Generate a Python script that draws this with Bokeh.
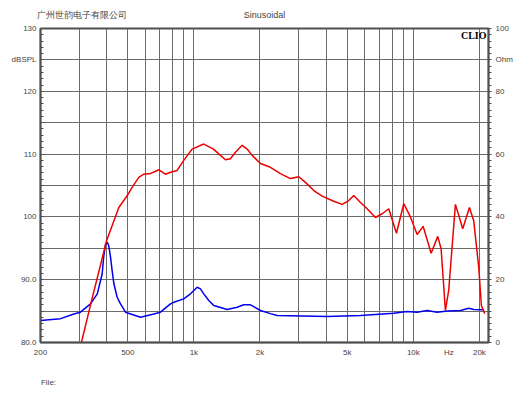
from bokeh.plotting import figure
from bokeh.models import Range1d, LinearAxis, LogAxis, FixedTicker, Label
from bokeh.embed import file_html
from bokeh.resources import INLINE
import math

# ---- data ----
spl_freq = [300, 338, 400, 455, 497, 523, 561, 591, 634, 692, 742, 782, 839, 899, 982,
            1109, 1228, 1321, 1393, 1467, 1546, 1659, 1749, 1843, 2011, 2232, 2480, 2754,
            3006, 3224, 3518, 3841, 4339, 4738, 5077, 5351, 5741, 6156, 6719, 7208, 7727,
            8376, 9040, 9698, 10404, 11081, 12052, 12915, 13382, 13998, 14490, 15548,
            16788, 18012, 18838, 19853, 20420, 21140]
spl_db = [78.5, 86.0, 96.2, 101.5, 103.4, 104.7, 106.3, 106.8, 106.9, 107.5, 106.8, 107.1,
          107.4, 109.0, 110.8, 111.6, 110.8, 109.8, 109.1, 109.25, 110.3, 111.4, 110.8,
          109.8, 108.5, 107.9, 106.9, 106.1, 106.4, 105.5, 104.2, 103.3, 102.5, 102.0,
          102.6, 103.4, 102.3, 101.3, 99.9, 100.5, 101.3, 97.4, 102.1, 100.0, 97.2, 98.5,
          94.2, 96.9, 94.9, 85.1, 88.3, 102.0, 98.1, 101.5, 99.4, 92.0, 85.9, 84.6]

imp_freq = [200, 247, 284, 304, 338, 363, 382, 388, 396, 403, 409, 417, 424, 432, 447, 463,
            488, 571, 657, 704, 782, 810, 899, 965, 1035, 1071, 1109, 1169, 1232, 1418, 1574,
            1687, 1810, 2011, 2232, 2396, 4048, 5741, 8142, 9366, 10404, 11554, 12836,
            14254, 16386, 17882, 18838, 20918]
imp_ohm = [7.0, 7.6, 9.1, 9.65, 12.3, 15.5, 21.9, 27.2, 31.4, 31.9, 30.9, 27.2, 22.9, 18.7,
           14.4, 12.3, 9.65, 8.06, 9.1, 9.65, 12.3, 12.8, 13.9, 15.5, 17.6, 17.1, 15.5, 13.4,
           11.8, 10.5, 11.25, 12.0, 12.0, 10.2, 9.2, 8.6, 8.3, 8.6, 9.3, 9.9, 9.65, 10.2,
           9.65, 10.0, 10.2, 10.9, 10.5, 10.4]

x_ticks = [200, 500, 1000, 2000, 5000, 10000, 14500, 20000]
x_labels = ["200", "500", "1k", "2k", "5k", "10k", "Hz", "20k"]
x_grid = [300, 400, 500, 600, 700, 800, 900, 1000, 2000, 3000, 4000, 5000, 6000, 7000,
          8000, 9000, 10000, 20000]
db_ticks = [80, 90, 100, 110, 120, 125, 130]
db_labels = ["80.0", "90.0", "100", "110", "120", "dBSPL", "130"]
ohm_ticks = [0, 20, 40, 60, 80, 90, 100]
ohm_labels = ["0", "20", "40", "60", "80", "Ohm", "100"]
company = "广州世韵电子有限公司"
mode = "Sinusoidal"
file_text = "File:"

X_MIN, X_MAX = 200, 22000
FRAME_W = 448
FONT = "Liberation Sans"
GRID = "#6a6a6a"
AX = "#505050"
TXT = "#444444"


def freq_at(px):
    # frequency whose position is px pixels right of the frame's left edge
    return X_MIN * (X_MAX / X_MIN) ** (px / FRAME_W)


p = figure(width=530, height=398, x_axis_type="log", output_backend="svg",
           toolbar_location=None, x_range=Range1d(X_MIN, X_MAX), y_range=Range1d(80, 130),
           min_border_left=40, min_border_right=42, min_border_top=28, min_border_bottom=56)
p.background_fill_color = "white"
p.border_fill_color = "white"
p.outline_line_color = AX
p.outline_line_width = 2

p.extra_y_ranges = {"ohm": Range1d(0, 100)}


def bare(ax):
    ax.major_tick_in = 0
    ax.major_tick_out = 0
    ax.minor_tick_in = 0
    ax.minor_tick_out = 0
    ax.major_label_text_font = FONT
    ax.major_label_text_color = TXT


# x axis
xa = p.xaxis[0]
xa.ticker = FixedTicker(ticks=x_ticks, minor_ticks=[])
xa.major_label_overrides = {t: l for t, l in zip(x_ticks, x_labels)}
bare(xa)
xa.axis_line_color = AX
xa.axis_line_width = 1.5
xa.major_label_text_font_size = "8px"
xa.major_label_standoff = 5

# header line (company name left, mode centred) as labels of a bare top axis
f_company = freq_at(41)
f_mode = math.sqrt(X_MIN * X_MAX)
ta = LogAxis(ticker=FixedTicker(ticks=[f_company, f_mode], minor_ticks=[]))
ta.major_label_overrides = {f_company: company, f_mode: mode}
bare(ta)
ta.axis_line_color = None
ta.major_label_text_font_size = "9px"
ta.major_label_standoff = 9
p.add_layout(ta, "above")

# footer "File:" as label of a bare second bottom axis
f_file = freq_at(8)
fa = LogAxis(ticker=FixedTicker(ticks=[f_file], minor_ticks=[]))
fa.major_label_overrides = {f_file: file_text}
bare(fa)
fa.axis_line_color = None
fa.major_label_text_font_size = "8px"
fa.major_label_standoff = 18
p.add_layout(fa, "below")

# left axis
ya = p.yaxis[0]
ya.ticker = FixedTicker(ticks=db_ticks, minor_ticks=list(range(80, 131)))
ya.major_label_overrides = {t: l for t, l in zip(db_ticks, db_labels)}
bare(ya)
ya.minor_tick_in = 3
ya.minor_tick_line_color = AX
ya.axis_line_color = AX
ya.axis_line_width = 1.5
ya.major_label_text_font_size = "8px"
ya.major_label_standoff = 4

# right axis
ra = LinearAxis(y_range_name="ohm",
                ticker=FixedTicker(ticks=ohm_ticks, minor_ticks=list(range(0, 101, 2))))
ra.major_label_overrides = {t: l for t, l in zip(ohm_ticks, ohm_labels)}
bare(ra)
ra.minor_tick_out = 3
ra.minor_tick_line_color = AX
ra.axis_line_color = AX
ra.axis_line_width = 1.5
ra.major_label_text_font_size = "8px"
ra.major_label_standoff = 4
p.add_layout(ra, "right")

# grids
p.xgrid.ticker = FixedTicker(ticks=x_grid, minor_ticks=[])
p.xgrid.grid_line_color = GRID
p.xgrid.grid_line_width = 1
p.ygrid.ticker = FixedTicker(ticks=list(range(80, 131, 5)), minor_ticks=[])
p.ygrid.grid_line_color = GRID
p.ygrid.grid_line_width = 1

# curves
p.line(imp_freq, imp_ohm, y_range_name="ohm", line_color="#0000ee", line_width=1.5)
p.line(spl_freq, spl_db, line_color="#ee0000", line_width=1.5)

p.add_layout(Label(x=X_MAX, y=130, x_offset=-2, y_offset=-1, text="CLIO",
                   text_font="Liberation Serif", text_font_style="bold", text_font_size="10px",
                   text_color="black", text_baseline="top", text_align="right"))

open("out.html", "w").write(file_html(p, INLINE))
